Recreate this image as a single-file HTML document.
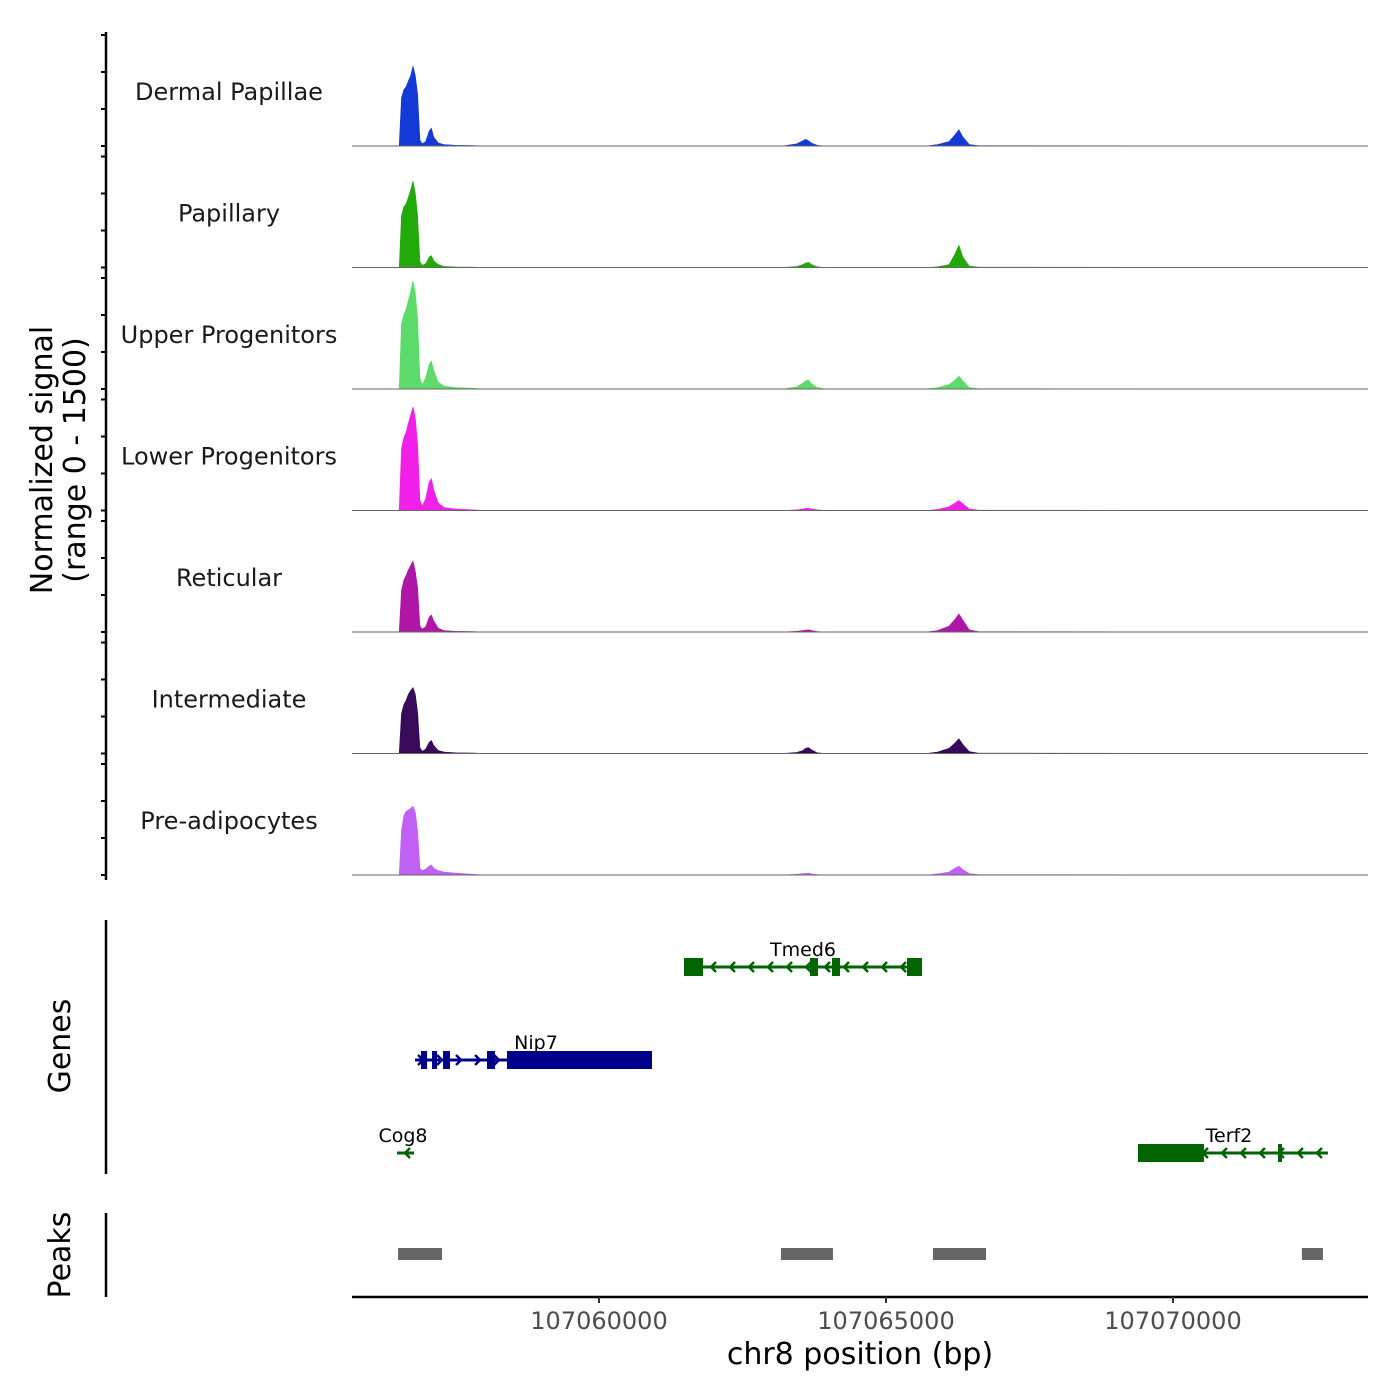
<!DOCTYPE html>
<html><head><meta charset="utf-8"><style>
body{margin:0;background:#fff}
svg{display:block;font-family:"DejaVu Sans","Liberation Sans",sans-serif}
</style></head><body>
<svg id="c" width="1400" height="1400" viewBox="0 0 1400 1400"></svg>
<script>
const trackNames=["Dermal Papillae","Papillary","Upper Progenitors","Lower Progenitors","Reticular","Intermediate","Pre-adipocytes"];
const trackColors=["#1339d6","#22aa0a","#5ddb6a","#f020e8","#b016a5","#3a0a5a","#c060f5"];
const positions=[107056400,107056520,107056560,107056600,107056640,107056680,107056720,107056760,107056800,107056840,107056880,107056920,107056980,107057040,107057080,107057120,107057200,107057300,107057500,107057800,107058000,107063200,107063450,107063550,107063600,107063650,107063700,107063800,107063950,107065700,107065900,107066100,107066200,107066270,107066340,107066450,107066600,107072600];
const sigDP=[0,0,650,760,800,880,950,1080,950,700,80,30,60,200,240,120,40,20,10,5,0,0,30,70,90,70,40,10,0,0,20,60,150,220,120,20,5,0];
const sigPap=[0,0,700,820,860,950,1050,1170,1000,700,80,30,50,140,160,90,40,15,8,4,0,0,15,40,60,70,40,10,0,0,10,40,180,300,140,20,5,0];
const sigUP=[0,0,880,1000,1080,1200,1320,1460,1300,950,150,60,150,330,380,250,90,40,20,10,0,0,30,80,110,120,70,20,0,0,20,60,120,175,110,20,5,0];
const sigLP=[0,0,840,980,1060,1180,1290,1400,1250,900,140,60,160,380,430,280,100,40,20,10,0,0,10,20,30,30,20,10,0,0,15,50,100,135,90,20,5,0];
const sigRet=[0,0,560,700,760,840,900,960,820,600,80,40,70,200,230,150,50,20,10,5,0,0,10,20,25,30,20,5,0,0,20,80,170,245,160,30,5,0];
const sigInt=[0,0,540,660,720,800,850,890,800,560,80,30,60,150,175,110,40,20,10,5,0,0,15,40,70,80,50,10,0,0,20,70,140,200,120,25,5,0];
const sigPre=[0,0,600,800,860,880,900,930,850,600,90,60,80,120,135,90,60,40,25,10,0,0,10,20,20,25,15,5,0,0,15,40,90,120,70,20,5,0];
const signals=[sigDP,sigPap,sigUP,sigLP,sigRet,sigInt,sigPre];
const xTicks=[107060000,107065000,107070000];
const yTicks=[0,500,1000,1500];
const genes=[
 {name:"Tmed6",strand:-1,start:107061481,end:107065627,row:0,color:"#006400",exons:[[107061481,107061812],[107063676,107063815],[107064059,107064199],[107065366,107065627]]},
 {name:"Nip7",strand:1,start:107056795,end:107060923,row:1,color:"#00008b",exons:[[107056899,107057004],[107057091,107057178],[107057283,107057404],[107058049,107058188],[107058397,107060923]]},
 {name:"Cog8",strand:-1,start:107056481,end:107056777,row:2,color:"#006400",exons:[]},
 {name:"Terf2",strand:-1,start:107069389,end:107072699,row:2,color:"#006400",exons:[[107069389,107070539],[107071828,107071898]]}
];
const peakStarts=[107056499,107063170,107065818,107072246];
const peakEnds=[107057265,107064076,107066742,107072612];

const NS="http://www.w3.org/2000/svg";
const svg=document.getElementById('c');
function mk(t,a,p){const e=document.createElementNS(NS,t);for(const k in a)e.setAttribute(k,a[k]);(p||svg).appendChild(e);return e;}
const X0=352,X1=1368;
const xs=bp=>599+(bp-107060000)*287/5000;
const base0=146,trackH=121.5,yPx=111/1500;
const ys=(i,v)=>base0+i*trackH-v*yPx;

const ax=mk('line',{x1:106,x2:106,y1:32,y2:880,stroke:'#000','stroke-width':2.5});

trackNames.forEach((n,i)=>{
  yTicks.forEach(t=>{
    const tk=mk('line',{x1:101,x2:106,y1:ys(i,t),y2:ys(i,t),stroke:'#000','stroke-width':2});
    
  });
  const g=mk('g',{});
  
  
  let d='M'+xs(positions[0])+','+ys(i,0);
  positions.forEach((p,j)=>{d+=' L'+xs(p).toFixed(1)+','+ys(i,signals[i][j]).toFixed(1);});
  d+=' L'+xs(positions[positions.length-1])+','+ys(i,0)+' Z';
  const ar=mk('path',{d:d,fill:trackColors[i],stroke:trackColors[i],'stroke-width':0.6},g);
  
  const bl=mk('line',{x1:X0,x2:X1,y1:ys(i,0),y2:ys(i,0),stroke:'#666','stroke-width':1},g);
  
  const lb=mk('text',{x:229,y:ys(i,0)-46,'text-anchor':'middle','font-size':24,fill:'#1a1a1a'},g);
  lb.textContent=n;
  
});
const yt=mk('text',{transform:'translate(52,460) rotate(-90)','text-anchor':'middle','font-size':30,fill:'#000'});

yt.innerHTML='<tspan x="0" dy="0">Normalized signal</tspan><tspan x="0" dy="33">(range 0 - 1500)</tspan>';

const ga=mk('line',{x1:106,x2:106,y1:920,y2:1174,stroke:'#000','stroke-width':2.5});

const gt=mk('text',{transform:'translate(70,1046) rotate(-90)','text-anchor':'middle','font-size':30});
gt.textContent='Genes';
const rowY=[967,1060,1153];
genes.forEach(gn=>{
  const g=mk('g',{});
  
  
  const y=rowY[gn.row],x1=xs(gn.start),x2=xs(gn.end);
  mk('line',{x1:x1,x2:x2,y1:y,y2:y,stroke:gn.color,'stroke-width':3},g);
  const step=19;
  for(let x=x1+8;x<x2-2;x+=step){
    const s=gn.strand;
    mk('polyline',{points:`${x-5*s},${y-5} ${x},${y} ${x-5*s},${y+5}`,fill:'none',stroke:gn.color,'stroke-width':2.5},g);
  }
  gn.exons.forEach(e=>{
    const r=mk('rect',{x:xs(e[0]),y:y-9,width:Math.max(3,xs(e[1])-xs(e[0])),height:18,fill:gn.color},g);
    
  });
  const lx={Tmed6:803,Nip7:536,Cog8:403,Terf2:1229}[gn.name];
  const t=mk('text',{x:lx,y:y-11,'text-anchor':'middle','font-size':19},g);
  t.textContent=gn.name;
});

const pa=mk('line',{x1:106,x2:106,y1:1213,y2:1297,stroke:'#000','stroke-width':2.5});

const pt=mk('text',{transform:'translate(70,1255) rotate(-90)','text-anchor':'middle','font-size':30});
pt.textContent='Peaks';
peakStarts.forEach((s,i)=>{
  const r=mk('rect',{x:xs(s),y:1248,width:xs(peakEnds[i])-xs(s),height:12,fill:'#666'});
  
});

const xa=mk('line',{x1:X0,x2:X1,y1:1297,y2:1297,stroke:'#000','stroke-width':2.5});

xTicks.forEach(t=>{
  const l=mk('line',{x1:xs(t),x2:xs(t),y1:1297,y2:1303,stroke:'#333','stroke-width':2});
  
  const tx=mk('text',{x:xs(t),y:1329,'text-anchor':'middle','font-size':24,fill:'#4d4d4d'});
  tx.textContent=t;
  
});
const xt=mk('text',{x:860,y:1364,'text-anchor':'middle','font-size':30});
xt.textContent='chr8 position (bp)';

</script>
</body></html>
